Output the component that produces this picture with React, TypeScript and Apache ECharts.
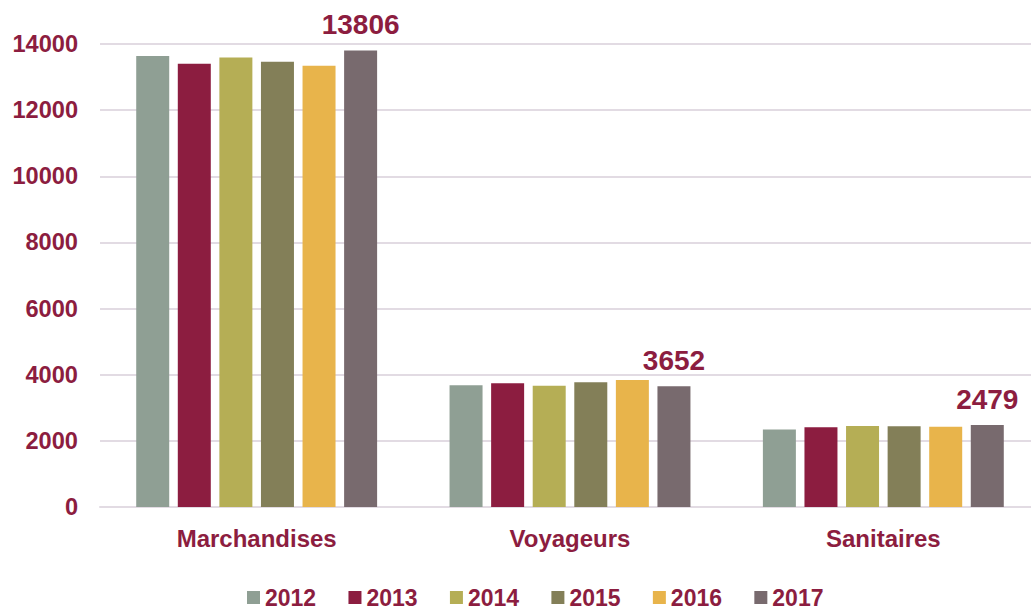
import React, { useEffect, useRef } from "react";
import * as echarts from "echarts";

const categories = ["Marchandises", "Voyageurs", "Sanitaires"];
const years = ["2012", "2013", "2014", "2015", "2016", "2017"];
const v2012 = [13640, 3680, 2340];
const v2013 = [13400, 3740, 2410];
const v2014 = [13590, 3670, 2450];
const v2015 = [13460, 3770, 2445];
const v2016 = [13340, 3840, 2430];
const v2017 = [13806, 3652, 2479];
const yTicks = [0, 2000, 4000, 6000, 8000, 10000, 12000, 14000];

const seriesValues = [v2012, v2013, v2014, v2015, v2016, v2017];
const colors = ["#8f9f94", "#8c1d40", "#b5ae55", "#837f58", "#e8b44b", "#786a6e"];
const textColor = "#8c1d40";
const font = "'Liberation Sans', Arial, sans-serif";

export default function App() {
  const ref = useRef<HTMLDivElement>(null);
  useEffect(() => {
    if (!ref.current) return;
    const chart = echarts.init(ref.current, undefined, { renderer: "svg" });
    chart.setOption({
      animation: false,
      textStyle: { fontFamily: font },
      legend: {
        top: 586,
        left: 247,
        padding: 0,
        itemWidth: 13,
        itemHeight: 13,
        itemGap: 32.3,
        icon: "rect",
        textStyle: { color: textColor, fontSize: 23, fontWeight: "bold", fontFamily: font },
        data: years,
      },
      grid: { left: 100, top: 44, width: 940, height: 463, containLabel: false },
      xAxis: {
        type: "category",
        data: categories,
        axisLine: { show: true, lineStyle: { color: "#e2dbe3", width: 2 } },
        axisTick: { show: false },
        axisLabel: { color: textColor, fontSize: 24, fontWeight: "bold", fontFamily: font, margin: 19 },
      },
      yAxis: {
        type: "value",
        min: yTicks[0],
        max: yTicks[yTicks.length - 1],
        interval: 2000,
        axisLine: { show: false },
        axisTick: { show: false },
        splitLine: { lineStyle: { color: "#e2dbe3", width: 2 } },
        axisLabel: {
          color: textColor,
          fontSize: 23.6,
          fontWeight: "bold",
          fontFamily: font,
          margin: 22,
          formatter: (v: number) => String(v),
        },
      },
      series: years.map((y, i) => ({
        name: y,
        type: "bar",
        data: seriesValues[i],
        barWidth: 33,
        barGap: "26%",
        itemStyle: { color: colors[i] },
        label: i === years.length - 1
          ? { show: true, position: "top", distance: 12, color: textColor, fontSize: 28, fontWeight: "bold", fontFamily: font }
          : { show: false },
      })),
    });
    return () => chart.dispose();
  }, []);
  return (
    <div style={{ position: "absolute", left: 0, top: 0, width: 1031, height: 609, overflow: "hidden" }}>
      <div ref={ref} style={{ position: "absolute", left: 0, top: 0, width: 1060, height: 609 }} />
    </div>
  );
}
